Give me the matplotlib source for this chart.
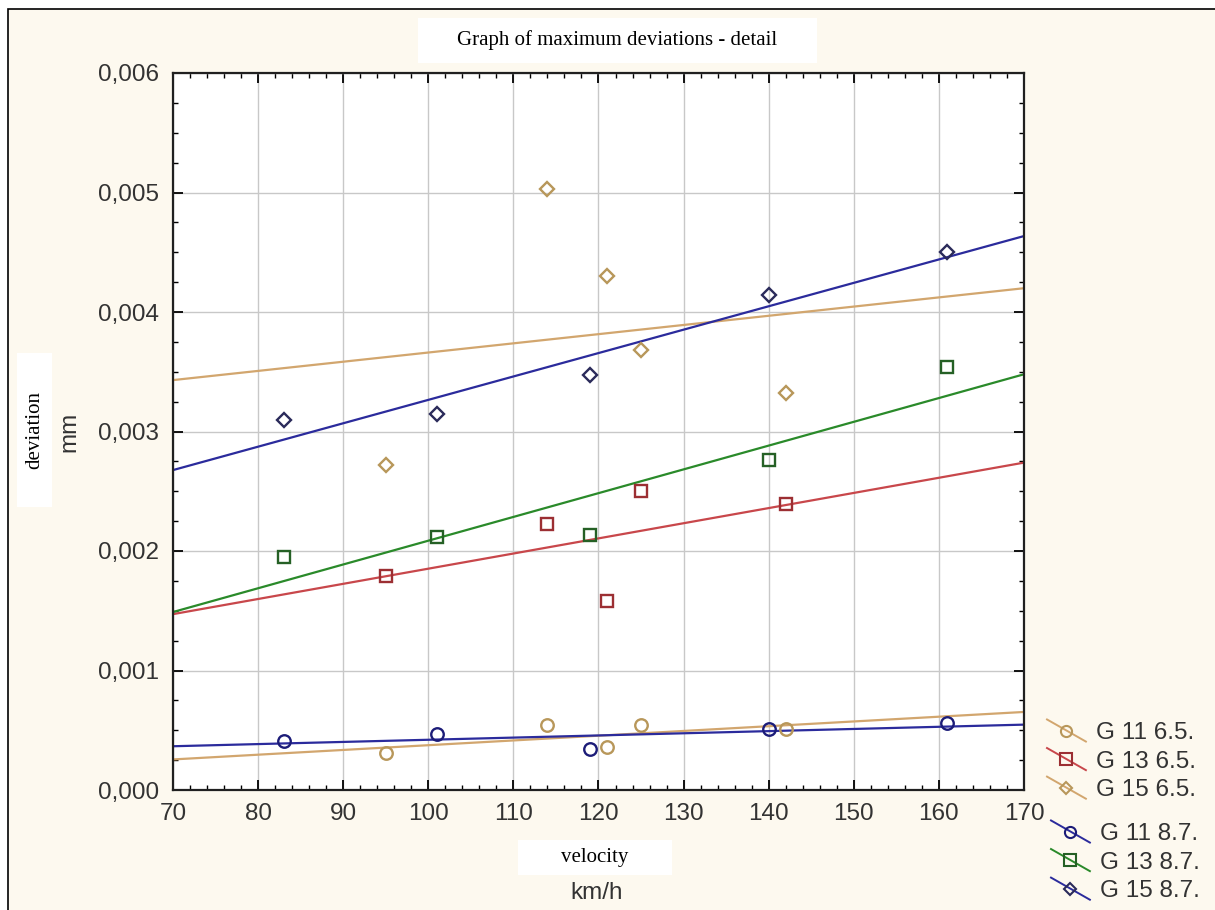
import matplotlib
matplotlib.use("Agg")
import matplotlib.pyplot as plt
import numpy as np
from matplotlib.lines import Line2D
from matplotlib.patches import Rectangle
from matplotlib.legend_handler import HandlerLine2D
from matplotlib.ticker import MultipleLocator, FuncFormatter

# data (velocity km/h, deviation mm)
x_65 = [95, 114, 121, 125, 142]
x_87 = [83, 101, 119, 140, 161]
g11_65 = [0.00031, 0.00054, 0.00036, 0.00054, 0.00051]
g13_65 = [0.00179, 0.00223, 0.00158, 0.00250, 0.00239]
g15_65 = [0.00272, 0.00503, 0.00430, 0.00368, 0.00332]
g11_87 = [0.00041, 0.00047, 0.00034, 0.00051, 0.00056]
g13_87 = [0.00195, 0.00212, 0.00213, 0.00276, 0.00354]
g15_87 = [0.00310, 0.00315, 0.00347, 0.00414, 0.00450]
labels = ["G 11 6.5.", "G 13 6.5.", "G 15 6.5.", "G 11 8.7.", "G 13 8.7.", "G 15 8.7."]

series = [
    (x_65, g11_65, "o", "#d2a66e", "#b8975a"),
    (x_65, g13_65, "s", "#c8474b", "#9c2f33"),
    (x_65, g15_65, "D", "#d2a66e", "#b8975a"),
    (x_87, g11_87, "o", "#2b2b9c", "#1c1c78"),
    (x_87, g13_87, "s", "#2a8a2a", "#256025"),
    (x_87, g15_87, "D", "#2b2b9c", "#2a2a5a"),
]
msizes = {"o": 9, "s": 9, "D": 7.5}

W, H = 1215, 910
fig = plt.figure(figsize=(W / 100, H / 100), dpi=100, facecolor="white")

# cream panel with black frame
fig.patches.append(Rectangle((8 / W, -0.05), 1.1, 1 - 9 / H + 0.05, transform=fig.transFigure,
                             facecolor="#fdf9ef", edgecolor="black", lw=1.2, zorder=-10))

ax = fig.add_axes([173 / W, 1 - 790 / H, (1024 - 173) / W, (790 - 73) / H])
ax.set_facecolor("white")

xfit = np.array([70, 170])
for xs, ys, mk, lc, mc in series:
    k, b = np.polyfit(xs, ys, 1)
    ax.plot(xfit, k * xfit + b, color=lc, lw=1.6, zorder=2)
    ax.plot(xs, ys, ls="none", marker=mk, ms=msizes[mk], mfc="none", mec=mc, mew=1.7, zorder=3)

ax.set_xlim(70, 170)
ax.set_ylim(0, 0.006)
ax.xaxis.set_major_locator(MultipleLocator(10))
ax.xaxis.set_minor_locator(MultipleLocator(2))
ax.yaxis.set_major_locator(MultipleLocator(0.001))
ax.yaxis.set_minor_locator(MultipleLocator(0.00025))
ax.yaxis.set_major_formatter(FuncFormatter(lambda v, p: f"{v:.3f}".replace(".", ",")))
ax.grid(True, which="major", color="#c8c8c8", lw=1)
ax.set_axisbelow(True)
ax.tick_params(which="both", direction="in", top=True, right=True, colors="black",
               labelcolor="#333333", labelsize=17.5)
ax.tick_params(which="major", length=7, width=1.3)
ax.tick_params(which="minor", length=3.5, width=1)
ax.tick_params(axis="y", pad=10)
ax.tick_params(axis="x", pad=9)
for t in ax.get_xticklabels() + ax.get_yticklabels():
    t.set_family("Liberation Sans")
for s in ax.spines.values():
    s.set_linewidth(1.6)
    s.set_color("#202020")


class DiagHandler(HandlerLine2D):
    def create_artists(self, legend, orig_handle, xdescent, ydescent, width, height, fontsize, trans):
        x0, x1 = -xdescent, -xdescent + width
        yc = -ydescent + height / 2
        line = Line2D([x0, x1], [yc + 0.65 * height, yc - 0.65 * height],
                      color=orig_handle.get_color(), lw=1.4)
        dot = Line2D([(x0 + x1) / 2], [yc], ls="none", marker=orig_handle.get_marker(),
                     ms=orig_handle.get_markersize(), mfc="none",
                     mec=orig_handle.get_markeredgecolor(), mew=1.5)
        line.set_transform(trans)
        dot.set_transform(trans)
        return [line, dot]


handles = [Line2D([], [], color=lc, marker=mk, ms=msizes[mk] - 1, mec=mc) for _, _, mk, lc, mc in series]
leg_kw = dict(frameon=False, borderpad=0, borderaxespad=0, handlelength=1.6, handletextpad=0.4,
              labelspacing=0.27, loc="upper left", handler_map={Line2D: DiagHandler()},
              prop={"family": "Liberation Sans", "size": 17.5}, labelcolor="#333333")
leg1 = fig.legend(handles[:3], labels[:3], bbox_to_anchor=(1047 / W, 1 - 722 / H),
                  bbox_transform=fig.transFigure, **leg_kw)
leg2 = fig.legend(handles[3:], labels[3:], bbox_to_anchor=(1051 / W, 1 - 823 / H),
                  bbox_transform=fig.transFigure, **leg_kw)

# axis labels
fig.text(69 / W, 1 - 432 / H, "mm", rotation=90, ha="center", va="center",
         family="Liberation Sans", fontsize=17.5, color="#333333")
fig.text(597 / W, 1 - 893 / H, "km/h", ha="center", va="center",
         family="Liberation Sans", fontsize=17.5, color="#333333")

# white boxes with serif labels
boxes = [
    ((418, 18, 817, 63), "Graph of maximum deviations - detail", 0),
    ((17, 353, 52, 507), "deviation", 90),
    ((518, 840, 672, 875), "velocity", 0),
]
for (x0, y0, x1, y1), txt, rot in boxes:
    fig.patches.append(Rectangle((x0 / W, 1 - y1 / H), (x1 - x0) / W, (y1 - y0) / H,
                                 transform=fig.transFigure, facecolor="white", edgecolor="none", zorder=5))
    fig.text((x0 + x1) / 2 / W, 1 - (y0 + y1) / 2 / H, txt, rotation=rot, ha="center", va="center",
             family="Liberation Serif", fontsize=15, color="black", zorder=6)

fig.savefig("out.png", dpi=100, facecolor=fig.get_facecolor())
